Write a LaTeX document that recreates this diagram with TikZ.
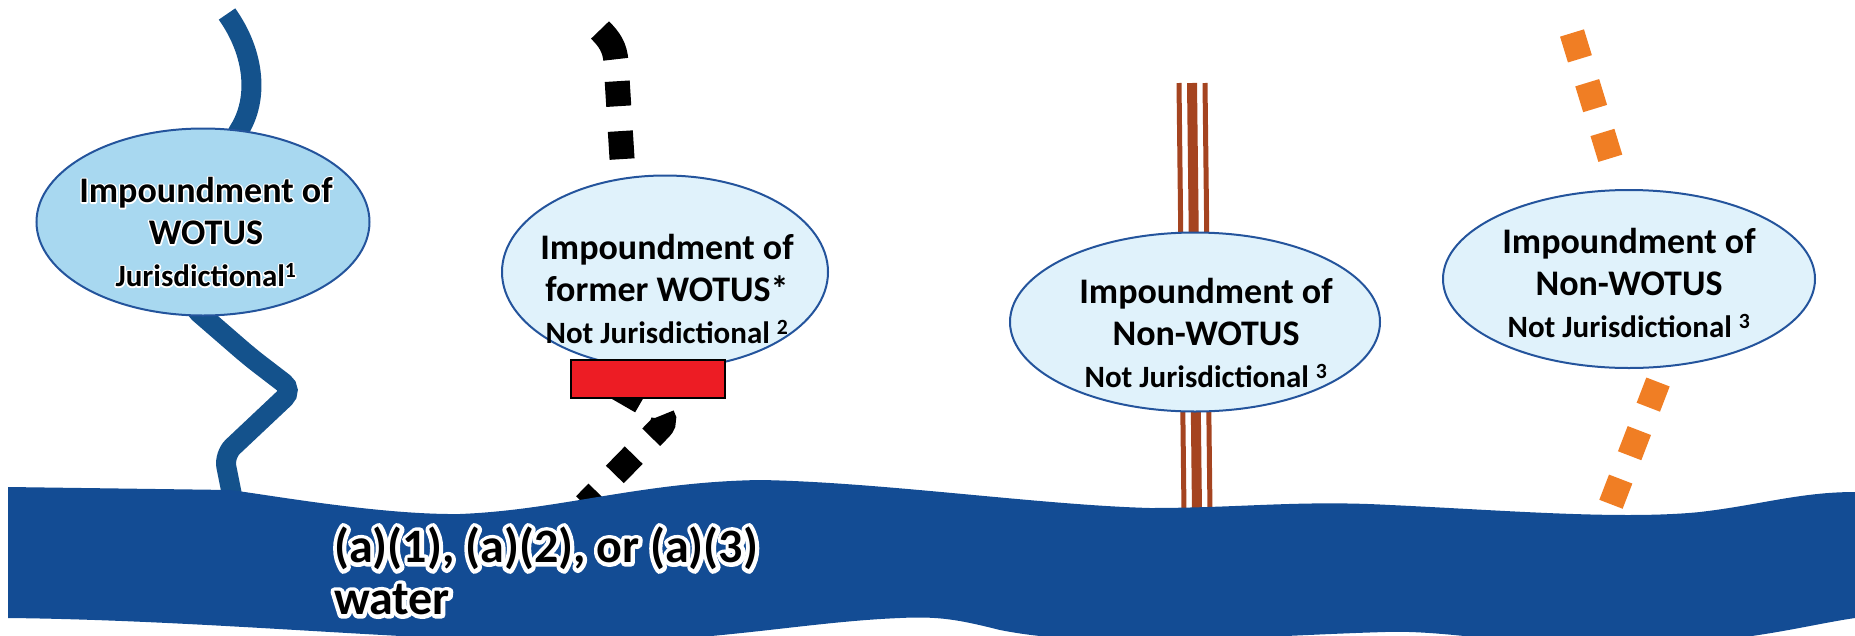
\documentclass[tikz,border=0pt]{standalone}
\usepackage{fontspec}
\setmainfont{Carlito}
\usetikzlibrary{shapes.geometric}

\definecolor{riverblue}{RGB}{19,76,148}
\definecolor{tribblue}{RGB}{20,82,140}
\definecolor{pondline}{RGB}{36,84,156}
\definecolor{pondfill}{RGB}{168,216,240}
\definecolor{pondpale}{RGB}{224,242,251}
\definecolor{damred}{RGB}{237,28,36}
\definecolor{ditchbrown}{RGB}{165,68,32}
\definecolor{ditchorange}{RGB}{240,126,36}

\newcommand{\pondnote}[1]{{\fontsize{31}{36}\selectfont #1}}
% white halo: stroked copy under the normal text
\newcommand{\halo}[2]{\rlap{\special{pdf:literal direct 1 Tr #1 w 1 j 1 1 1 RG}#2\special{pdf:literal direct 0 Tr 0.4 w 0 0 0 RG}}#2}

\begin{document}
\begin{tikzpicture}[x=1pt,y=-1pt,
  pond/.style={ellipse,draw=pondline,line width=2pt,fill=pondpale,inner sep=0pt},
  pondtext/.style={align=center,inner sep=0pt,font=\bfseries\fontsize{36}{42}\selectfont},
  rivertext/.style={align=left,inner sep=0pt,font=\bfseries\fontsize{48}{52}\selectfont},
  dashline/.style={line width=25pt}]
  \useasboundingbox (0,0) rectangle (1855,635);
  \clip (0,0) rectangle (1855,635);

  % streams under the ponds
  \draw[tribblue,line width=20pt,rounded corners=12pt] (227,14) .. controls (256,55) and (258,100) .. (233,140)
    -- (190,305) -- (250,357) -- (293,390) -- (224,455) -- (236,515);
  \draw[dashline,black,dash pattern=on 34pt off 22pt on 25pt off 25pt on 28pt off 300pt]
    (600,30) .. controls (609,39) and (615,47) .. (616,62) -- (624,190);
  \draw[dashline,black,rounded corners=14pt,dash pattern=on 27pt off 25pt] (618,388) -- (670,418) -- (585,505);
  \foreach \dx/\w in {-13/5,0/10,13/5}
    \draw[ditchbrown,line width=\w pt] (1192+\dx,83) -- (1197+\dx,512);
  \draw[dashline,ditchorange,dash pattern=on 27pt off 25pt] (1572,33) -- (1613,167);
  \draw[dashline,ditchorange,dash pattern=on 27pt off 25pt] (1658,382) -- (1608,512);

  % main water
  \fill[riverblue] (8,487) -- (230,490) .. controls (270,495) and (380,515) .. (460,514)
    .. controls (560,510) and (640,482) .. (760,480) .. controls (880,482) and (1040,505) .. (1150,508)
    .. controls (1240,508) and (1300,500) .. (1390,505) .. controls (1500,510) and (1620,520) .. (1700,512)
    .. controls (1760,505) and (1800,492) .. (1855,492) -- (1855,618)
    .. controls (1800,626) and (1740,645) .. (1620,645) .. controls (1500,645) and (1450,630) .. (1385,632)
    .. controls (1250,636) and (1100,650) .. (1000,630) .. controls (960,620) and (940,616) .. (900,618)
    .. controls (800,622) and (700,645) .. (560,642) .. controls (400,640) and (200,620) .. (8,618) -- cycle;

  % ponds
  \node[pond,fill=pondfill,minimum width=333pt,minimum height=187pt] (p1) at (203,222) {};
  \node[pond,minimum width=326pt,minimum height=193pt] (p2) at (665,272) {};
  \node[pond,minimum width=370pt,minimum height=179pt] (p3) at (1195,322) {};
  \node[pond,minimum width=372pt,minimum height=178pt] (p4) at (1629,279) {};
  \node[draw=black,line width=2.5pt,fill=damred,minimum width=154pt,minimum height=38pt,inner sep=0pt] (dam) at (648,379) {};

  \node[pondtext] (t1) at (206,232) {\halo{3}{Impoundment of}\\\halo{3}{WOTUS}\\
    \pondnote{\halo{3}{Jurisdictional\textsuperscript{1}}}};
  \node[pondtext] (t2) at (667,289) {Impoundment of\\former WOTUS*\\\pondnote{Not Jurisdictional \textsuperscript{2}}};
  \node[pondtext] (t3) at (1206,333) {Impoundment of\\Non-WOTUS\\\pondnote{Not Jurisdictional \textsuperscript{3}}};
  \node[pondtext] (t4) at (1629,283) {Impoundment of\\Non-WOTUS\\\pondnote{Not Jurisdictional \textsuperscript{3}}};

  \node[rivertext,anchor=west] (water) at (334,571) {\halo{8}{(a)(1), (a)(2), or (a)(3)}\\\halo{8}{water}};
\end{tikzpicture}
\end{document}
